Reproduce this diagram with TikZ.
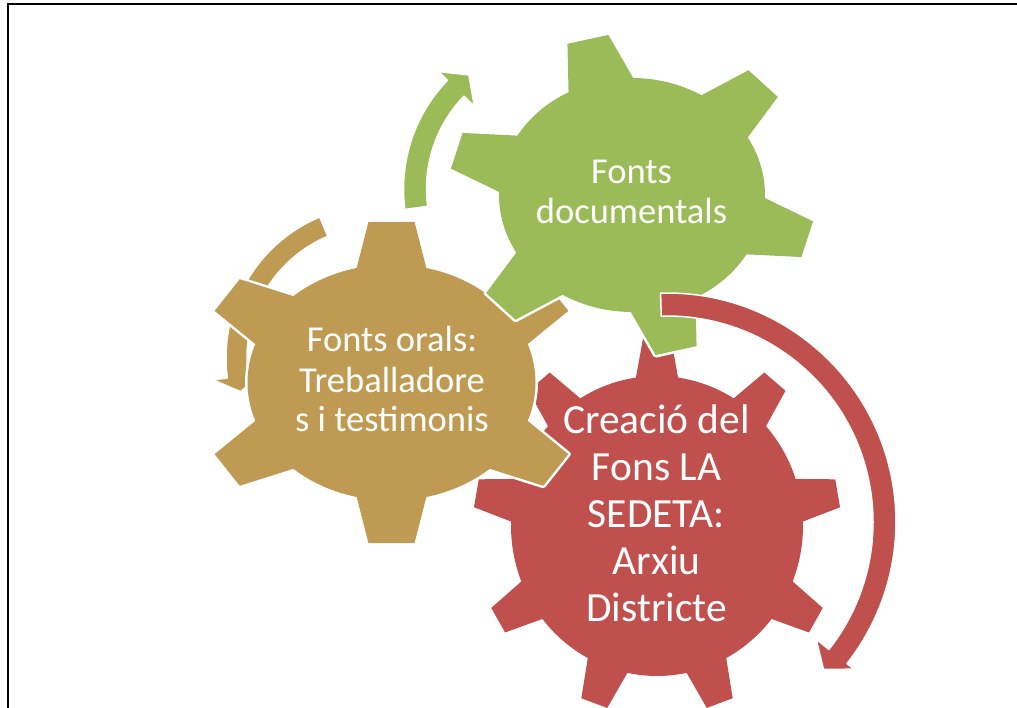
\documentclass[tikz,border=0pt]{standalone}
\usepackage{fontspec}
\setmainfont{Carlito}
\definecolor{gearGold}{RGB}{190,154,83}
\definecolor{gearGreen}{RGB}{155,187,89}
\definecolor{gearRed}{RGB}{192,80,77}
% #1 style (fill + transform), #2 tip radius factor, #3 base half-angle, #4 tip half-angle, #5 first tooth angle, #6 clockwise tooth pairs
\newcommand\gearbody[6]{\path[#1] ({#5+#3}:1) \foreach \tA/\tB in {#6} { -- ({\tA+#4}:#2) -- ({\tA-#4}:#2) -- ({\tA-#3}:1) arc[start angle={\tA-#3}, end angle={\tB+#3}, radius=1] } -- cycle;}
\newcommand\gearshape[6]{\gearbody{gearhalo,#1}{#2}{#3}{#4}{#5}{#6}\gearbody{#1}{#2}{#3}{#4}{#5}{#6}}
\begin{document}
\begin{tikzpicture}[x=1pt,y=1pt,
  gearhalo/.style={draw=white,line width=5pt,line join=round},
  arrowhalo/.style={draw=white,line width=1.5pt,line join=round},
  lblA/.style={text=white,inner sep=0pt,anchor=base,font=\fontsize{36.5pt}{40pt}\selectfont},
  lblB/.style={text=white,inner sep=0pt,anchor=base,font=\fontsize{41.5pt}{47pt}\selectfont}]
\useasboundingbox (0,0) rectangle (1017,708);
\fill[white] (0,0) rectangle (1017,708);
\draw[line width=2pt] (8,0) -- (8,703.5) -- (1018,703.5);
% centres
\coordinate (goldC) at (391.5,325.5);
\coordinate (greenC) at (632,513);
\coordinate (redC) at (657,182);
\coordinate (goldArc) at (379,350);
\coordinate (greenArc) at (560,519);
\coordinate (redArc) at (667,186);
% gold circular arrow (behind gears)
\path[arrowhalo,fill=gearGold,shift={(goldArc)}] (112.8:153) arc[start angle=112.8,end angle=187.5,radius=153] -- (187.5:167.5) -- (193.7:142.5) -- (187.5:117.5) -- (187.5:132) arc[start angle=187.5,end angle=112.8,radius=132] -- cycle;
% gears
\gearshape{fill=gearRed,shift={(redC)},xscale=146,yscale=150}{1.26}{8.3}{4.3}{90}{90/50,50/10,10/-30,-30/-70,-70/-110,-110/-150,-150/-190,-190/-230,-230/-270}
\gearshape{fill=gearGold,shift={(goldC)},xscale=144,yscale=118}{1.37}{14}{6.7}{90}{90/33,33/-33,-33/-90,-90/-147,-147/-213,-213/-270}
\gearshape{fill=gearGreen,shift={(greenC)},xscale=133,yscale=117}{1.38}{14.5}{6.6}{104}{104/44,44/-16,-16/-76,-76/-136,-136/-196,-196/-256}
% green circular arrow
\path[arrowhalo,fill=gearGreen,shift={(greenArc)}] (187.5:156.5) arc[start angle=187.5,end angle=136,radius=156.5] -- (136:169) -- (128.6:146) -- (136:119) -- (136:133.5) arc[start angle=136,end angle=187.5,radius=133.5] -- cycle;
% red circular arrow
\path[arrowhalo,fill=gearRed,shift={(redArc)}] (91.6:229) arc[start angle=91.6,end angle=-38.2,radius=229] -- (-38.2:238) -- (-43.3:215) -- (-38.2:190) -- (-38.2:206) arc[start angle=-38.2,end angle=91.6,radius=206] -- cycle;
% labels
\node[lblA] (greenT1) at (631.5,524) {Fonts};
\node[lblA] (greenT2) at (631.5,484) {documentals};
\node[lblA] (goldT1) at (392,356.3) {Fonts orals:};
\node[lblA] (goldT2) at (392,315.3) {Treballadore};
\node[lblA] (goldT3) at (392,276.3) {s i testimonis};
\node[lblB] (redT1) at (656.5,274) {Creació del};
\node[lblB] (redT2) at (656.5,227.3) {Fons LA};
\node[lblB] (redT3) at (656.5,180.7) {SEDETA:};
\node[lblB] (redT4) at (656.5,133) {Arxiu};
\node[lblB] (redT5) at (656.5,86.3) {Districte};
\end{tikzpicture}
\end{document}
